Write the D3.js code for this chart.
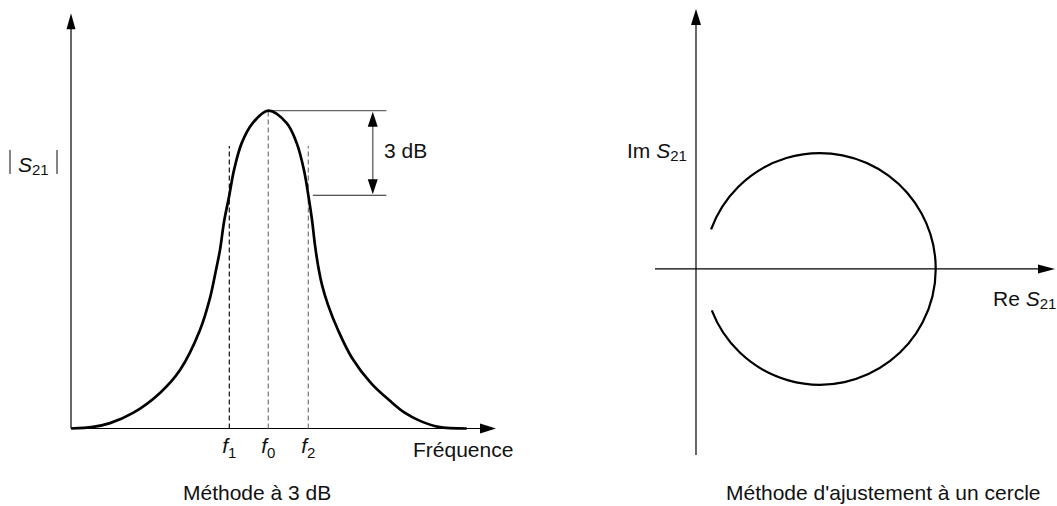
<!DOCTYPE html>
<html>
<head>
<meta charset="utf-8">
<script src="https://cdn.jsdelivr.net/npm/d3@7"></script>
<style>
  html, body { margin: 0; background: #fff; }
  svg { display: block; }
  text { font-family: "Liberation Sans", Arial, Helvetica, sans-serif; font-size: 21px; fill: #111; }
</style>
</head>
<body>
<svg id="chart" width="1057" height="506"></svg>
<script>
// ---- Resonance curve |S21| versus frequency (arbitrary units) ----
const freq = [0, 5.18, 9.18, 14.59, 20.94, 25.65, 30.35, 32.71, 34.12, 35.06, 36.0, 37.25, 38.35, 40.16, 42.75,
              46.42,
              50.75, 53.11, 54.82, 55.84, 56.71, 57.41, 58.12, 59.06, 60.47, 62.82, 66.12, 70.59, 75.06, 78.59,
              82.12, 86.47, 93.11];
const magnitude = [0, 0.005, 0.017, 0.049, 0.112, 0.184, 0.310, 0.411, 0.499, 0.562, 0.650, 0.734, 0.813, 0.898, 0.961,
                   1.0,
                   0.961, 0.898, 0.813, 0.734, 0.656, 0.577, 0.514, 0.452, 0.389, 0.310, 0.222, 0.143, 0.087, 0.049,
                   0.024, 0.005, 0];

// Marker frequencies f1, f0, f2 and their subscripts
const markerFreq = [37.25, 46.42, 55.84];
const markerSub = ["1", "0", "2"];
const markerTop = 0.889;

// Peak level and the -3 dB level
const peakLevel = 1.0;
const halfPowerLevel = 0.734;
const refLineStart = [47.2, 56.9];
const refLineEnd = 74.2;
const dbArrowFreq = 71.0;

// ---- Circle fit in the complex plane ----
const circleCenter = [0.535, 0];   // [Re, Im]
const circleRadius = 0.5;
const arcFrom = -160;              // degrees, screen orientation
const arcTo = 159;

const svg = d3.select("#chart");

// Scales for the left panel
const x = d3.scaleLinear().domain([0, 100]).range([71, 496]);
const y = d3.scaleLinear().domain([0, 1]).range([428.5, 110.7]);
const yAxisTop = 1.307;

// Scales for the right panel (equal pixels per unit on both axes)
const re = d3.scaleLinear().domain([-0.177, 1.55]).range([655, 1055]);
const im = d3.scaleLinear().domain([-0.804, 1.123]).range([455, 9]);

function head(g, tx, ty, dx, dy, len, half, fill) {
  // filled triangular arrow head, tip at (tx,ty), pointing along (dx,dy)
  const bx = tx - dx * len, by = ty - dy * len;
  const px = -dy * half, py = dx * half;
  g.append("path")
    .attr("d", `M${tx},${ty}L${bx + px},${by + py}L${bx - px},${by - py}Z`)
    .attr("fill", fill || "#000");
}

// ---------- Left panel ----------
const left = svg.append("g");

// axes
left.append("line")
  .attr("x1", x(0)).attr("x2", x(100) - 14)
  .attr("y1", y(0)).attr("y2", y(0))
  .attr("stroke", "#000").attr("stroke-width", 1.2);
head(left, x(100), y(0), 1, 0, 16, 5);
left.append("line")
  .attr("x1", x(0)).attr("x2", x(0))
  .attr("y1", y(0)).attr("y2", y(yAxisTop) + 14)
  .attr("stroke", "#000").attr("stroke-width", 1.2);
head(left, x(0), y(yAxisTop), 0, -1, 16, 4.5);

// dashed markers f1, f0, f2
left.selectAll("line.marker")
  .data(markerFreq)
  .join("line")
  .attr("class", "marker")
  .attr("x1", d => x(d)).attr("x2", d => x(d))
  .attr("y1", y(0)).attr("y2", (d, i) => i === 1 ? y(peakLevel) : y(markerTop))
  .attr("stroke", (d, i) => i === 0 ? "#111" : "#777")
  .attr("stroke-width", 1.2)
  .attr("stroke-dasharray", "5,3");

// reference lines at the peak and at -3 dB
left.append("line")
  .attr("x1", x(refLineStart[0])).attr("x2", x(refLineEnd))
  .attr("y1", y(peakLevel)).attr("y2", y(peakLevel))
  .attr("stroke", "#666").attr("stroke-width", 1.3);
left.append("line")
  .attr("x1", x(refLineStart[1])).attr("x2", x(refLineEnd))
  .attr("y1", y(halfPowerLevel)).attr("y2", y(halfPowerLevel))
  .attr("stroke", "#222").attr("stroke-width", 1.2);

// double arrow for the 3 dB span
left.append("line")
  .attr("x1", x(dbArrowFreq)).attr("x2", x(dbArrowFreq))
  .attr("y1", y(peakLevel) + 10).attr("y2", y(halfPowerLevel) - 10)
  .attr("stroke", "#777").attr("stroke-width", 1.6);
head(left, x(dbArrowFreq), y(peakLevel) + 1, 0, -1, 15, 5);
head(left, x(dbArrowFreq), y(halfPowerLevel) - 1, 0, 1, 15, 5);

// resonance curve
const curve = d3.line()
  .x((d, i) => x(freq[i]))
  .y(d => y(d))
  .curve(d3.curveCatmullRom.alpha(0.5));
left.append("path")
  .attr("d", curve(magnitude))
  .attr("fill", "none")
  .attr("stroke", "#000")
  .attr("stroke-width", 2.7)
  .attr("stroke-linejoin", "round");

// labels
left.append("text").attr("x", 384).attr("y", 157.5).text("3 dB");

const fl = left.selectAll("text.flabel")
  .data(markerFreq)
  .join("text")
  .attr("class", "flabel")
  .attr("x", d => x(d))
  .attr("y", 453)
  .attr("text-anchor", "middle");
fl.append("tspan").attr("font-style", "italic").text("f");
fl.append("tspan").attr("font-size", 15).attr("dy", 5).text((d, i) => markerSub[i]);

left.append("text").attr("x", 413).attr("y", 457).text("Fréquence");

// |S21| label
left.append("line").attr("x1", 10).attr("x2", 10).attr("y1", 150).attr("y2", 174)
  .attr("stroke", "#333").attr("stroke-width", 1.2);
left.append("line").attr("x1", 57).attr("x2", 57).attr("y1", 150).attr("y2", 174)
  .attr("stroke", "#333").attr("stroke-width", 1.2);
const s21 = left.append("text").attr("x", 18).attr("y", 172);
s21.append("tspan").attr("font-style", "italic").text("S");
s21.append("tspan").attr("font-size", 15).attr("dy", 3).text("21");

left.append("text").attr("x", 183).attr("y", 500).text("Méthode à 3 dB");

// ---------- Right panel ----------
const right = svg.append("g");

right.append("line")
  .attr("x1", re(-0.177)).attr("x2", re(1.55) - 14)
  .attr("y1", im(0)).attr("y2", im(0))
  .attr("stroke", "#000").attr("stroke-width", 1.2);
head(right, re(1.55), im(0), 1, 0, 17, 4.5);
right.append("line")
  .attr("x1", re(0)).attr("x2", re(0))
  .attr("y1", im(-0.804)).attr("y2", im(1.123) + 14)
  .attr("stroke", "#000").attr("stroke-width", 1.2);
head(right, re(0), im(1.123), 0, -1, 16, 5);

// fitted circle, open on the left
const p = d3.path();
const rPx = re(circleRadius) - re(0);
p.arc(re(circleCenter[0]), im(circleCenter[1]), rPx, arcFrom * Math.PI / 180, arcTo * Math.PI / 180, false);
right.append("path")
  .attr("d", p.toString())
  .attr("fill", "none")
  .attr("stroke", "#000")
  .attr("stroke-width", 2.2);

const imLab = right.append("text").attr("x", 627).attr("y", 158);
imLab.append("tspan").text("Im ");
imLab.append("tspan").attr("font-style", "italic").text("S");
imLab.append("tspan").attr("font-size", 15).attr("dy", 3).text("21");

const reLab = right.append("text").attr("x", 993).attr("y", 306);
reLab.append("tspan").text("Re ");
reLab.append("tspan").attr("font-style", "italic").text("S");
reLab.append("tspan").attr("font-size", 15).attr("dy", 3).text("21");

right.append("text").attr("x", 726).attr("y", 500).text("Méthode d'ajustement à un cercle");
</script>
</body>
</html>
